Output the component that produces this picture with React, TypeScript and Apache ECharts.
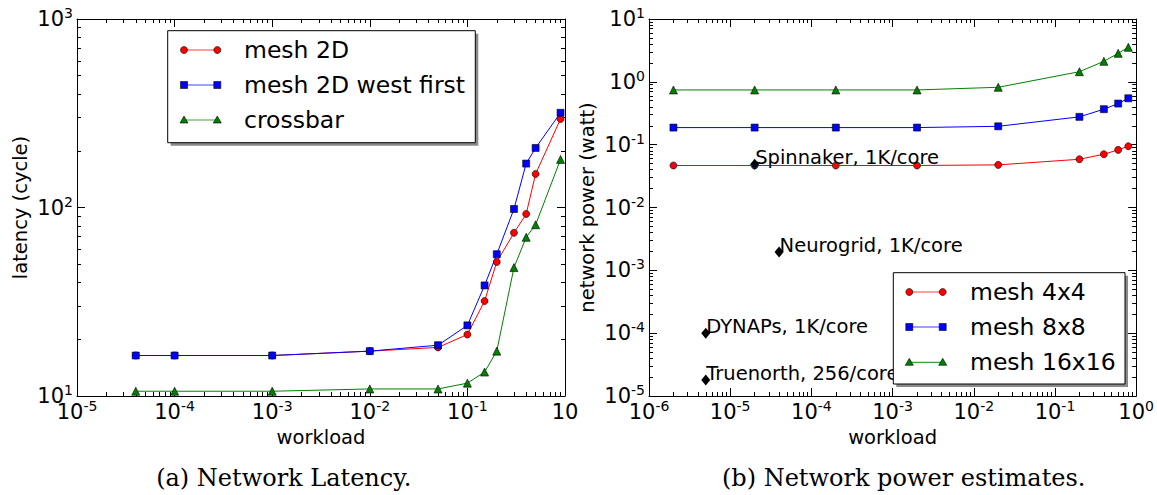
import React, { useEffect, useRef } from "react";
import * as echarts from "echarts";

// ---------- data: (a) network latency ----------
const latencyWorkload = [4e-5, 1e-4, 1e-3, 1e-2, 0.05, 0.1, 0.15, 0.2, 0.3, 0.4, 0.5, 0.9];
const mesh2D = [16.4, 16.4, 16.4, 17.3, 18.1, 21.2, 31.9, 51.4, 73.4, 92.4, 150.7, 295];
const mesh2DWestFirst = [16.4, 16.4, 16.4, 17.3, 18.6, 23.7, 38.6, 56.5, 98.2, 171, 207, 318];
const crossbar = [10.6, 10.6, 10.6, 10.9, 10.9, 11.7, 13.4, 17.3, 48, 69.5, 81, 180];

// ---------- data: (b) network power ----------
const powerWorkload = [2e-6, 2e-5, 2e-4, 2e-3, 2e-2, 0.2, 0.4, 0.6, 0.8];
const mesh4x4 = [0.0466, 0.0466, 0.0466, 0.0466, 0.0477, 0.0586, 0.0705, 0.0826, 0.0945];
const mesh8x8 = [0.187, 0.187, 0.187, 0.187, 0.196, 0.277, 0.367, 0.451, 0.547];
const mesh16x16 = [0.743, 0.743, 0.743, 0.743, 0.819, 1.45, 2.12, 2.84, 3.54];

const chipNames = ["Spinnaker, 1K/core", "Neurogrid, 1K/core", "DYNAPs, 1K/core", "Truenorth, 256/core"];
const chipWorkload = [2e-5, 4e-5, 5e-6, 5e-6];
const chipPower = [0.049, 0.00195, 1e-4, 1.8e-5];

// ---------- ticks ----------
const latencyXTicks = [1e-5, 1e-4, 1e-3, 1e-2, 1e-1, 1];
const latencyYTicks = [10, 100, 1000];
const powerXTicks = [1e-6, 1e-5, 1e-4, 1e-3, 1e-2, 1e-1, 1];
const powerYTicks = [1e-5, 1e-4, 1e-3, 1e-2, 1e-1, 1, 10];
const minorMultipliers = [2, 3, 4, 5, 6, 7, 8, 9];

const latencyNames = ["mesh 2D", "mesh 2D west first", "crossbar"];
const powerNames = ["mesh 4x4", "mesh 8x8", "mesh 16x16"];
const captions = ["(a) Network Latency.", "(b) Network power estimates."];

const FONT = "DejaVu Sans";
const RED = "#ff0000";
const BLUE = "#0000ff";
const GREEN = "#008000";

function minorTicks(majors: number[]) {
  const out: number[] = [];
  for (let i = 0; i < majors.length - 1; i++) {
    for (const m of minorMultipliers) out.push(m * majors[i]);
  }
  return out;
}

const rich = {
  b: { fontSize: 21, fontFamily: FONT, color: "#000", lineHeight: 26 },
  s: { fontSize: 14, fontFamily: FONT, color: "#000", verticalAlign: "top", lineHeight: 15 },
};

function supLabel(dropZero: boolean) {
  return (v: number) => {
    const e = Math.round(Math.log10(v));
    if (dropZero && e === 0) return "{b|10}";
    return `{b|10}{s|${e}}`;
  };
}

function makeAxes(
  dim: "x" | "y",
  gridIndex: number,
  major: number[],
  fmt: (v: number) => string,
  name: string,
  nameGap: number
) {
  const mainPos = dim === "x" ? "bottom" : "left";
  const mirrorPos = dim === "x" ? "top" : "right";
  const minor = minorTicks(major);
  const base = {
    type: "log",
    logBase: 10,
    min: major[0],
    max: major[major.length - 1],
    gridIndex,
    splitLine: { show: false },
  };
  const line = { show: true, onZero: false, lineStyle: { color: "#000", width: 1 } };
  const tick = (vals: number[], len: number) => ({
    show: true,
    inside: true,
    length: len,
    customValues: vals,
    lineStyle: { color: "#000", width: 1 },
  });
  return [
    {
      ...base,
      position: mainPos,
      axisLine: line,
      axisTick: tick(major, 8),
      axisLabel: {
        show: true,
        customValues: major,
        formatter: fmt,
        rich,
        margin: dim === "x" ? 3 : 4,
      },
      name,
      nameLocation: "middle",
      nameGap,
      nameTextStyle: { fontSize: 19.5, fontFamily: FONT, color: "#000" },
    },
    { ...base, position: mainPos, axisLine: { show: false }, axisTick: tick(minor, 4), axisLabel: { show: false } },
    { ...base, position: mirrorPos, axisLine: line, axisTick: tick(major, 8), axisLabel: { show: false } },
    { ...base, position: mirrorPos, axisLine: { show: false }, axisTick: tick(minor, 4), axisLabel: { show: false } },
  ];
}

function lineSeries(name: string, xs: number[], ys: number[], color: string, symbol: string, axisIndex: number) {
  return {
    type: "line",
    name,
    xAxisIndex: axisIndex,
    yAxisIndex: axisIndex,
    data: xs.map((x, i) => [x, ys[i]]),
    symbol,
    symbolSize: symbol === "triangle" ? 8 : 7,
    showSymbol: true,
    lineStyle: { color, width: 1 },
    itemStyle: { color, borderColor: "#000", borderWidth: 0.6 },
    emphasis: { disabled: true },
  };
}

function legendGraphic(
  x: number,
  y: number,
  w: number,
  h: number,
  rows: number[],
  lineX0: number,
  lineX1: number,
  textX: number,
  names: string[]
) {
  const colors = [RED, BLUE, GREEN];
  const kinds = ["circle", "square", "triangle"];
  const els: any[] = [
    { type: "rect", z: 100, shape: { x: x + 3, y: y + 3, width: w, height: h }, style: { fill: "#8a8a8a" } },
    { type: "rect", z: 101, shape: { x, y, width: w, height: h }, style: { fill: "#fff", stroke: "#000", lineWidth: 1 } },
  ];
  rows.forEach((ry, i) => {
    const c = colors[i];
    els.push({ type: "line", z: 102, shape: { x1: lineX0, y1: ry, x2: lineX1, y2: ry }, style: { stroke: c, lineWidth: 1.2, opacity: 0.75 } });
    [lineX0, lineX1].forEach((cx) => {
      if (kinds[i] === "circle") {
        els.push({ type: "circle", z: 103, shape: { cx, cy: ry, r: 3.5 }, style: { fill: c, stroke: "#000", lineWidth: 0.6 } });
      } else if (kinds[i] === "square") {
        els.push({ type: "rect", z: 103, shape: { x: cx - 3.5, y: ry - 3.5, width: 7, height: 7 }, style: { fill: c, stroke: "#000", lineWidth: 0.6 } });
      } else {
        els.push({
          type: "polygon",
          z: 103,
          shape: { points: [[cx, ry - 4], [cx + 4, ry + 3], [cx - 4, ry + 3]] },
          style: { fill: c, stroke: "#000", lineWidth: 0.6 },
        });
      }
    });
    els.push({
      type: "text",
      z: 103,
      style: { text: names[i], x: textX, y: ry, fill: "#000", fontSize: 23.5, fontFamily: FONT, align: "left", verticalAlign: "middle" },
    });
  });
  return els;
}

export default function App() {
  const ref = useRef<HTMLDivElement>(null);
  useEffect(() => {
    document.body.style.margin = "0";
    if (!ref.current) return;
    const chart = echarts.init(ref.current, undefined, { renderer: "svg" });
    const xAxes = [
      ...makeAxes("x", 0, latencyXTicks, supLabel(true), "workload", 30),
      ...makeAxes("x", 1, powerXTicks, supLabel(false), "workload", 30),
    ];
    const yAxes = [
      ...makeAxes("y", 0, latencyYTicks, supLabel(false), "latency (cycle)", 47),
      ...makeAxes("y", 1, powerYTicks, supLabel(false), "network power (watt)", 52),
    ];
    const option: any = {
      animation: false,
      backgroundColor: "#fff",
      grid: [
        { left: 77, top: 19, width: 488, height: 377, containLabel: false },
        { left: 649, top: 19, width: 488, height: 377, containLabel: false },
      ],
      xAxis: xAxes,
      yAxis: yAxes,
      series: [
        lineSeries(latencyNames[0], latencyWorkload, mesh2D, RED, "circle", 0),
        lineSeries(latencyNames[1], latencyWorkload, mesh2DWestFirst, BLUE, "rect", 0),
        lineSeries(latencyNames[2], latencyWorkload, crossbar, GREEN, "triangle", 0),
        lineSeries(powerNames[0], powerWorkload, mesh4x4, RED, "circle", 4),
        lineSeries(powerNames[1], powerWorkload, mesh8x8, BLUE, "rect", 4),
        lineSeries(powerNames[2], powerWorkload, mesh16x16, GREEN, "triangle", 4),
        {
          type: "scatter",
          xAxisIndex: 4,
          yAxisIndex: 4,
          data: chipWorkload.map((x, i) => [x, chipPower[i]]),
          symbol: "diamond",
          symbolSize: [9, 11],
          itemStyle: { color: "#000", opacity: 1 },
          emphasis: { disabled: true },
          label: {
            show: true,
            formatter: (p: any) => chipNames[p.dataIndex],
            position: [5, 9],
            align: "left",
            verticalAlign: "bottom",
            fontSize: 19.5,
            fontFamily: FONT,
            color: "#000",
            opacity: 1,
          },
          z: 5,
        },
      ],
      graphic: [
        ...legendGraphic(167.7, 30.7, 307.6, 112, [50, 85, 120], 184, 217.3, 244, latencyNames),
        ...legendGraphic(893.3, 272.7, 231.7, 111.3, [292, 327, 362.3], 909.3, 942.7, 970, powerNames),
        {
          type: "text",
          style: { text: captions[0], x: 283.7, y: 478, fill: "#000", fontSize: 24, fontFamily: "DejaVu Serif", align: "center", verticalAlign: "middle" },
        },
        {
          type: "text",
          style: { text: captions[1], x: 903.7, y: 478, fill: "#000", fontSize: 24, fontFamily: "DejaVu Serif", align: "center", verticalAlign: "middle" },
        },
      ],
    };
    chart.setOption(option);
    return () => chart.dispose();
  }, []);
  return <div ref={ref} style={{ position: "absolute", left: 0, top: 0, width: 1157, height: 495 }} />;
}
